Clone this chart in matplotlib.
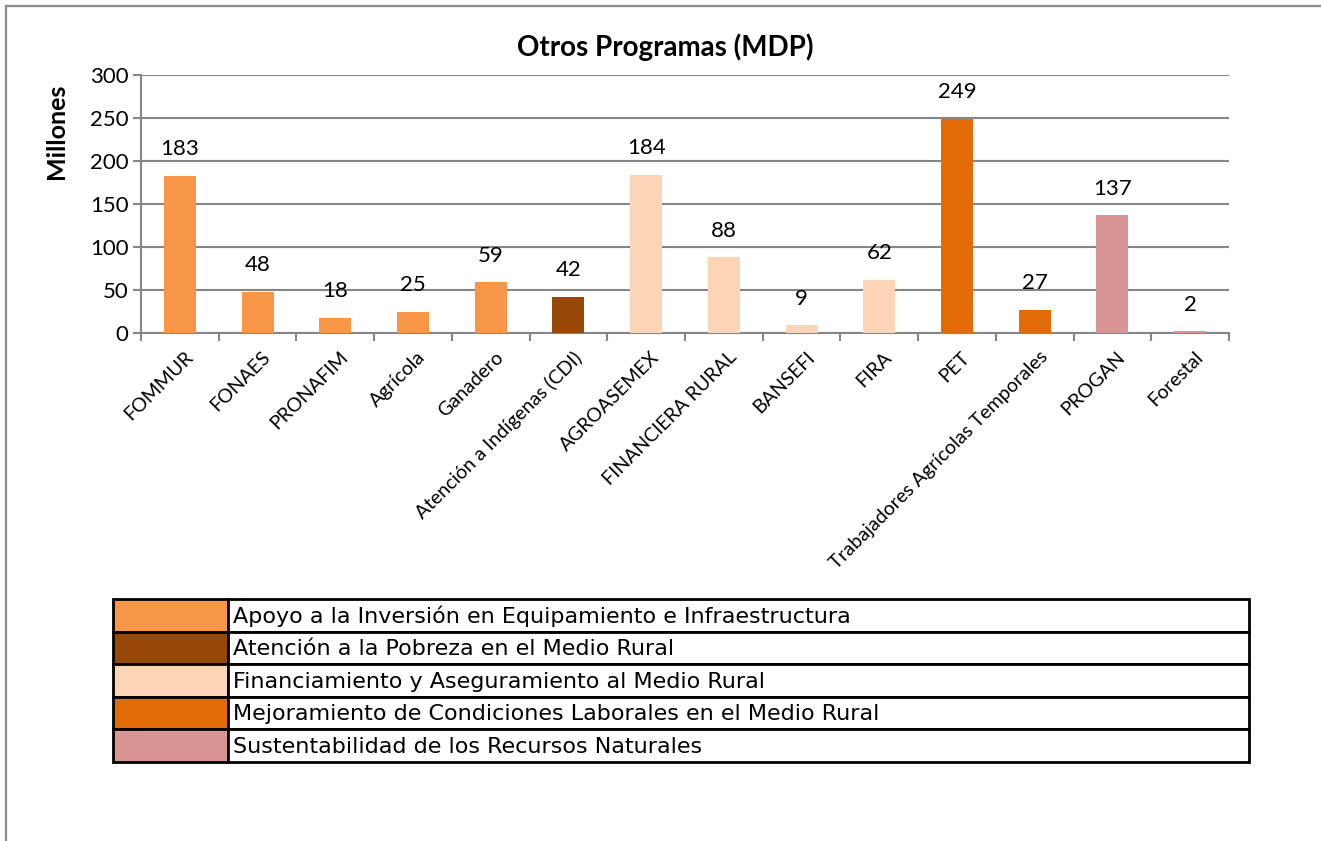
import matplotlib
matplotlib.use("Agg")
import matplotlib.pyplot as plt
import matplotlib.transforms as mtransforms
from matplotlib.patches import Rectangle
from matplotlib.lines import Line2D

plt.rcParams['font.family'] = ['Lato', 'DejaVu Sans']

categories = ["FOMMUR", "FONAES", "PRONAFIM", "Agrícola", "Ganadero",
              "Atención a Indígenas (CDI)", "AGROASEMEX", "FINANCIERA RURAL",
              "BANSEFI", "FIRA", "PET", "Trabajadores Agrícolas Temporales",
              "PROGAN", "Forestal"]
values = [183, 48, 18, 25, 59, 42, 184, 88, 9, 62, 249, 27, 137, 2]
groups = [0, 0, 0, 0, 0, 1, 2, 2, 2, 2, 3, 3, 4, 4]

group_names = ["Apoyo a la Inversión en Equipamiento e Infraestructura",
               "Atención a la Pobreza en el Medio Rural",
               "Financiamiento y Aseguramiento al Medio Rural",
               "Mejoramiento de Condiciones Laborales en el Medio Rural",
               "Sustentabilidad de los Recursos Naturales"]
group_colors = ["#F79646", "#974806", "#FBD5B5", "#E36C09", "#D99594"]

title = "Otros Programas (MDP)"
ylabel = "Millones"
yticks = [0, 50, 100, 150, 200, 250, 300]

W, H = 1321, 841
fig = plt.figure(figsize=(W / 100, H / 100), dpi=100)

# outer chart border
fig.add_artist(Line2D([6 / W, 6 / W], [0, 1 - 6 / H], color="#8c8c8c", lw=1.6))
fig.add_artist(Line2D([6 / W, 1], [1 - 6 / H, 1 - 6 / H], color="#8c8c8c", lw=1.6))

ax = fig.add_axes([141 / W, 1 - 333 / H, (1229 - 141) / W, (333 - 75) / H])
x = list(range(len(categories)))
colors = [group_colors[g] for g in groups]
ax.bar(x, values, width=0.41, color=colors, zorder=3)
ax.set_xlim(-0.5, len(categories) - 0.5)
ax.set_ylim(0, 300)
ax.set_yticks(yticks)
ax.set_yticklabels([str(t) for t in yticks], fontsize=16)
ax.yaxis.grid(True, color="#868686", lw=1.5, zorder=0)
ax.set_axisbelow(True)
for s in ["top", "right"]:
    ax.spines[s].set_visible(False)
for s in ["left", "bottom"]:
    ax.spines[s].set_color("#868686")
    ax.spines[s].set_linewidth(1.5)
ax.tick_params(axis="y", length=6, width=1.5, color="#868686", pad=3)
ax.set_xticks([i - 0.5 for i in range(len(categories) + 1)], minor=True)
ax.set_xticks(x)
ax.tick_params(axis="x", which="major", length=0, pad=11)
ax.tick_params(axis="x", which="minor", length=6, width=1.5, color="#868686")
ax.set_xticklabels(categories, rotation=45, ha="right", rotation_mode="anchor",
                   fontsize=14)
shift = mtransforms.ScaledTranslation(4 / 100, 0, fig.dpi_scale_trans)
for lbl in ax.get_xticklabels():
    lbl.set_transform(lbl.get_transform() + shift)

for xi, v in zip(x, values):
    ax.annotate(str(v), (xi, v), xytext=(0, 12), textcoords="offset points",
                ha="center", va="bottom", fontsize=16)

fig.text(665 / W, 1 - 47 / H, title, ha="center", va="center",
         fontsize=20, fontweight="bold")
fig.text(57 / W, 1 - 131 / H, ylabel, ha="center", va="center",
         rotation=90, fontsize=18, fontweight="bold")

# legend table
lx0, lx1, lxc = 113, 1249, 228
ly0, ly1 = 599, 762
n = len(group_names)
rh = (ly1 - ly0) / n
lax = fig.add_axes([0, 0, 1, 1])
lax.set_xlim(0, W)
lax.set_ylim(H, 0)
lax.axis("off")
lax.patch.set_alpha(0)
for i, (name, c) in enumerate(zip(group_names, group_colors)):
    y0 = ly0 + i * rh
    lax.add_patch(Rectangle((lx0, y0), lxc - lx0, rh, facecolor=c,
                            edgecolor="black", lw=2))
    lax.add_patch(Rectangle((lxc, y0), lx1 - lxc, rh, facecolor="white",
                            edgecolor="black", lw=2))
    lax.text(lxc + 5, y0 + rh / 2 + 1, name, ha="left", va="center",
             fontsize=16, family=["DejaVu Sans"])

fig.savefig("out.png", dpi=100)
